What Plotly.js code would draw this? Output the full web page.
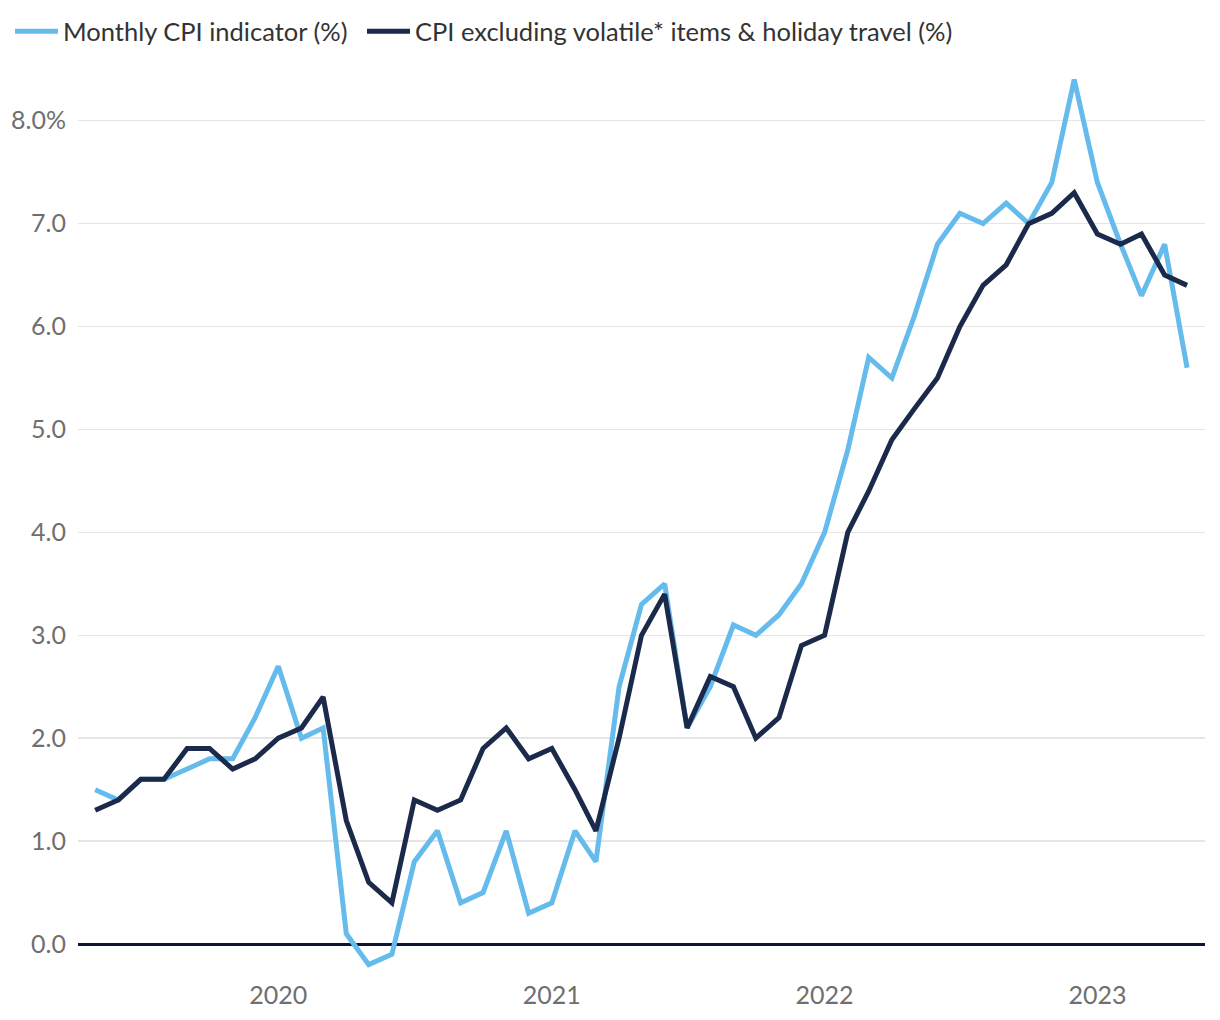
<!DOCTYPE html>
<html>
<head>
<meta charset="utf-8">
<script src="https://cdn.plot.ly/plotly-3.0.1.min.js"></script>
<style>
  html, body { margin: 0; padding: 0; background: #ffffff; }
  #chart { width: 1220px; height: 1020px; }
</style>
</head>
<body>
<div id="chart"></div>
<script>
const months = [
  '2019-05-01','2019-06-01','2019-07-01','2019-08-01','2019-09-01','2019-10-01','2019-11-01','2019-12-01',
  '2020-01-01','2020-02-01','2020-03-01','2020-04-01','2020-05-01','2020-06-01','2020-07-01','2020-08-01',
  '2020-09-01','2020-10-01','2020-11-01','2020-12-01',
  '2021-01-01','2021-02-01','2021-03-01','2021-04-01','2021-05-01','2021-06-01','2021-07-01','2021-08-01',
  '2021-09-01','2021-10-01','2021-11-01','2021-12-01',
  '2022-01-01','2022-02-01','2022-03-01','2022-04-01','2022-05-01','2022-06-01','2022-07-01','2022-08-01',
  '2022-09-01','2022-10-01','2022-11-01','2022-12-01',
  '2023-01-01','2023-02-01','2023-03-01','2023-04-01','2023-05-01'
];

const monthlyCPI = [
  1.5, 1.4, 1.6, 1.6, 1.7, 1.8, 1.8, 2.2,
  2.7, 2.0, 2.1, 0.1, -0.2, -0.1, 0.8, 1.1, 0.4, 0.5, 1.1, 0.3,
  0.4, 1.1, 0.8, 2.5, 3.3, 3.5, 2.1, 2.5, 3.1, 3.0, 3.2, 3.5,
  4.0, 4.8, 5.7, 5.5, 6.1, 6.8, 7.1, 7.0, 7.2, 7.0, 7.4, 8.4,
  7.4, 6.8, 6.3, 6.8, 5.6
];

const cpiExVolatile = [
  1.3, 1.4, 1.6, 1.6, 1.9, 1.9, 1.7, 1.8,
  2.0, 2.1, 2.4, 1.2, 0.6, 0.4, 1.4, 1.3, 1.4, 1.9, 2.1, 1.8,
  1.9, 1.5, 1.1, 2.0, 3.0, 3.4, 2.1, 2.6, 2.5, 2.0, 2.2, 2.9,
  3.0, 4.0, 4.4, 4.9, 5.2, 5.5, 6.0, 6.4, 6.6, 7.0, 7.1, 7.3,
  6.9, 6.8, 6.9, 6.5, 6.4
];

const seriesNames = ['Monthly CPI indicator (%)', 'CPI excluding volatile* items & holiday travel (%)'];

const yTickVals = [0, 1, 2, 3, 4, 5, 6, 7, 8];
const yTickText = ['0.0', '1.0', '2.0', '3.0', '4.0', '5.0', '6.0', '7.0', '8.0%'];

const xTickVals = ['2020-01-01', '2021-01-01', '2022-01-01', '2023-01-01'];
const xTickText = ['2020', '2021', '2022', '2023'];

const FONT = 'Lato, "Source Sans Pro", "Noto Sans", sans-serif';

const traces = [
  {
    x: months, y: monthlyCPI, name: seriesNames[0], type: 'scatter', mode: 'lines',
    line: { color: '#65bbec', width: 5 }, hoverinfo: 'skip', legend: 'legend'
  },
  {
    x: months, y: cpiExVolatile, name: seriesNames[1], type: 'scatter', mode: 'lines',
    line: { color: '#1b2a4a', width: 5 }, hoverinfo: 'skip', legend: 'legend2'
  }
];

const legendBase = {
  orientation: 'h', xref: 'container', yref: 'container',
  y: 0.992, xanchor: 'left', yanchor: 'top',
  font: { family: FONT, size: 25.5, color: '#333333' },
  itemwidth: 43, tracegroupgap: 0, bgcolor: 'rgba(0,0,0,0)'
};

const layout = {
  width: 1220, height: 1020,
  paper_bgcolor: '#ffffff', plot_bgcolor: '#ffffff',
  margin: { l: 78, r: 15, t: 60, b: 42 },
  font: { family: FONT, size: 25, color: '#6f6f6f' },
  showlegend: true,
  legend: Object.assign({}, legendBase, { x: 10 / 1220 }),
  legend2: Object.assign({}, legendBase, { x: 362 / 1220 }),
  xaxis: {
    type: 'date', range: ['2019-04-08', '2023-05-25'],
    showgrid: false, zeroline: false, showline: false, ticks: '',
    tickvals: xTickVals, ticktext: xTickText,
    tickfont: { family: FONT, size: 25, color: '#6f6f6f' },
    fixedrange: true
  },
  yaxis: {
    range: [-0.33, 8.59],
    tickvals: yTickVals, ticktext: yTickText,
    showgrid: true, gridcolor: '#e5e5e5', gridwidth: 1.5,
    zeroline: true, zerolinecolor: '#0d1533', zerolinewidth: 3,
    showline: false, ticks: '', ticklabelstandoff: 11,
    tickfont: { family: FONT, size: 25, color: '#6f6f6f' },
    fixedrange: true
  }
};

Plotly.newPlot('chart', traces, layout, { displayModeBar: false, staticPlot: true });
</script>
</body>
</html>
